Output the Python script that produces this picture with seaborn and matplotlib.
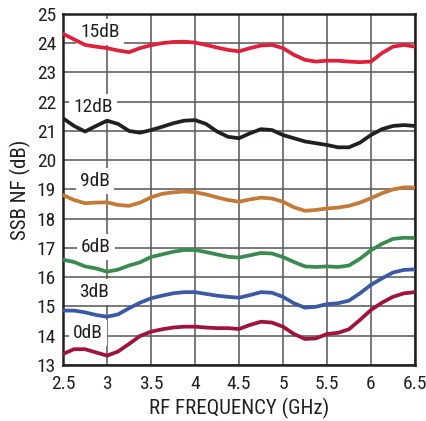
import matplotlib
matplotlib.use("Agg")
import matplotlib.pyplot as plt
import seaborn as sns
import pandas as pd

freq = [2.5, 2.625, 2.75, 2.875, 3.0, 3.125, 3.25, 3.375, 3.5, 3.625, 3.75, 3.875, 4.0,
        4.125, 4.25, 4.375, 4.5, 4.625, 4.75, 4.875, 5.0, 5.125, 5.25, 5.375, 5.5,
        5.625, 5.75, 5.875, 6.0, 6.125, 6.25, 6.375, 6.5]
nf_15 = [24.32, 24.13, 23.94, 23.88, 23.83, 23.75, 23.69, 23.83, 23.93, 24.0, 24.04, 24.05, 24.02,
         23.94, 23.85, 23.77, 23.72, 23.83, 23.92, 23.94, 23.83, 23.6, 23.43, 23.37, 23.4,
         23.4, 23.37, 23.35, 23.37, 23.66, 23.88, 23.94, 23.88]
nf_12 = [21.43, 21.17, 20.98, 21.17, 21.35, 21.24, 21.0, 20.94, 21.03, 21.14, 21.26, 21.35, 21.37,
         21.24, 20.98, 20.8, 20.75, 20.92, 21.06, 21.03, 20.86, 20.75, 20.64, 20.58, 20.52,
         20.44, 20.44, 20.6, 20.86, 21.06, 21.17, 21.2, 21.17]
nf_9 = [18.81, 18.64, 18.53, 18.55, 18.56, 18.47, 18.44, 18.55, 18.73, 18.85, 18.9, 18.93, 18.91,
        18.83, 18.73, 18.64, 18.58, 18.66, 18.72, 18.69, 18.58, 18.39, 18.27, 18.3, 18.35,
        18.38, 18.44, 18.55, 18.7, 18.87, 19.0, 19.07, 19.07]
nf_6 = [16.6, 16.52, 16.37, 16.3, 16.19, 16.26, 16.4, 16.51, 16.69, 16.78, 16.87, 16.93, 16.93,
        16.86, 16.78, 16.7, 16.67, 16.75, 16.83, 16.81, 16.69, 16.52, 16.37, 16.35, 16.37,
        16.35, 16.4, 16.63, 16.92, 17.14, 17.31, 17.35, 17.34]
nf_3 = [14.86, 14.86, 14.8, 14.71, 14.65, 14.73, 14.94, 15.13, 15.28, 15.37, 15.45, 15.49, 15.49,
        15.43, 15.37, 15.33, 15.3, 15.39, 15.49, 15.47, 15.33, 15.11, 14.96, 14.99, 15.08,
        15.11, 15.2, 15.45, 15.74, 15.96, 16.16, 16.25, 16.27]
nf_0 = [13.38, 13.54, 13.54, 13.43, 13.32, 13.46, 13.72, 13.99, 14.14, 14.22, 14.28, 14.31, 14.31,
        14.28, 14.26, 14.26, 14.23, 14.37, 14.48, 14.45, 14.31, 14.06, 13.89, 13.91, 14.06,
        14.1, 14.22, 14.54, 14.88, 15.13, 15.33, 15.45, 15.49]

series_names = ["15dB", "12dB", "9dB", "6dB", "3dB", "0dB"]
series_vals = [nf_15, nf_12, nf_9, nf_6, nf_3, nf_0]
colors = ["#e0203a", "#231f20", "#c47a35", "#3a8b4f", "#3a5aa8", "#a0133d"]
label_x = [2.92, 2.84, 2.86, 2.87, 2.85, 2.78]
label_y = [24.38, 21.82, 19.3, 17.04, 15.5, 14.09]

x_ticks = [2.5, 3, 3.5, 4, 4.5, 5, 5.5, 6, 6.5]
x_ticklabels = ["2.5", "3", "3.5", "4", "4.5", "5", "5.5", "6", "6.5"]
y_ticks = list(range(13, 26))

sns.set_style("white")
plt.rcParams["font.family"] = ["Liberation Sans Narrow", "Roboto Condensed",
                               "Liberation Sans", "DejaVu Sans"]

rows = []
for name, vals in zip(series_names, series_vals):
    for f, v in zip(freq, vals):
        rows.append({"freq": f, "nf": v, "gain": name})
df = pd.DataFrame(rows)

fig = plt.figure(figsize=(4.26, 4.21), dpi=100)
ax = fig.add_axes([0.148, 0.133, 0.826, 0.834])

sns.lineplot(data=df, x="freq", y="nf", hue="gain", hue_order=series_names,
             palette=colors, linewidth=2.7, legend=False, ax=ax, zorder=3)
for line in ax.get_lines():
    line.set_solid_joinstyle("round")
    line.set_solid_capstyle("round")

for name, lx, ly in zip(series_names, label_x, label_y):
    ax.text(lx, ly, name, ha="center", va="center", fontsize=14, color="#231f20",
            zorder=2, bbox=dict(facecolor="white", edgecolor="none", pad=3))

ax.set_xlim(2.5, 6.5)
ax.set_ylim(13, 25)
ax.set_xticks(x_ticks)
ax.set_xticklabels(x_ticklabels)
ax.set_yticks(y_ticks)
ax.grid(True, color="#555555", linewidth=1.1, zorder=1)
ax.set_axisbelow(True)
ax.tick_params(axis="both", length=0, labelsize=14, colors="#231f20")
ax.tick_params(axis="x", pad=7)
ax.tick_params(axis="y", pad=5)
for s in ax.spines.values():
    s.set_visible(True)
    s.set_color("#231f20")
    s.set_linewidth(1.8)
ax.set_xlabel("RF FREQUENCY (GHz)", fontsize=15, color="#231f20", labelpad=4)
ax.set_ylabel("SSB NF (dB)", fontsize=15, color="#231f20", labelpad=4)

fig.savefig("out.png", dpi=100)
